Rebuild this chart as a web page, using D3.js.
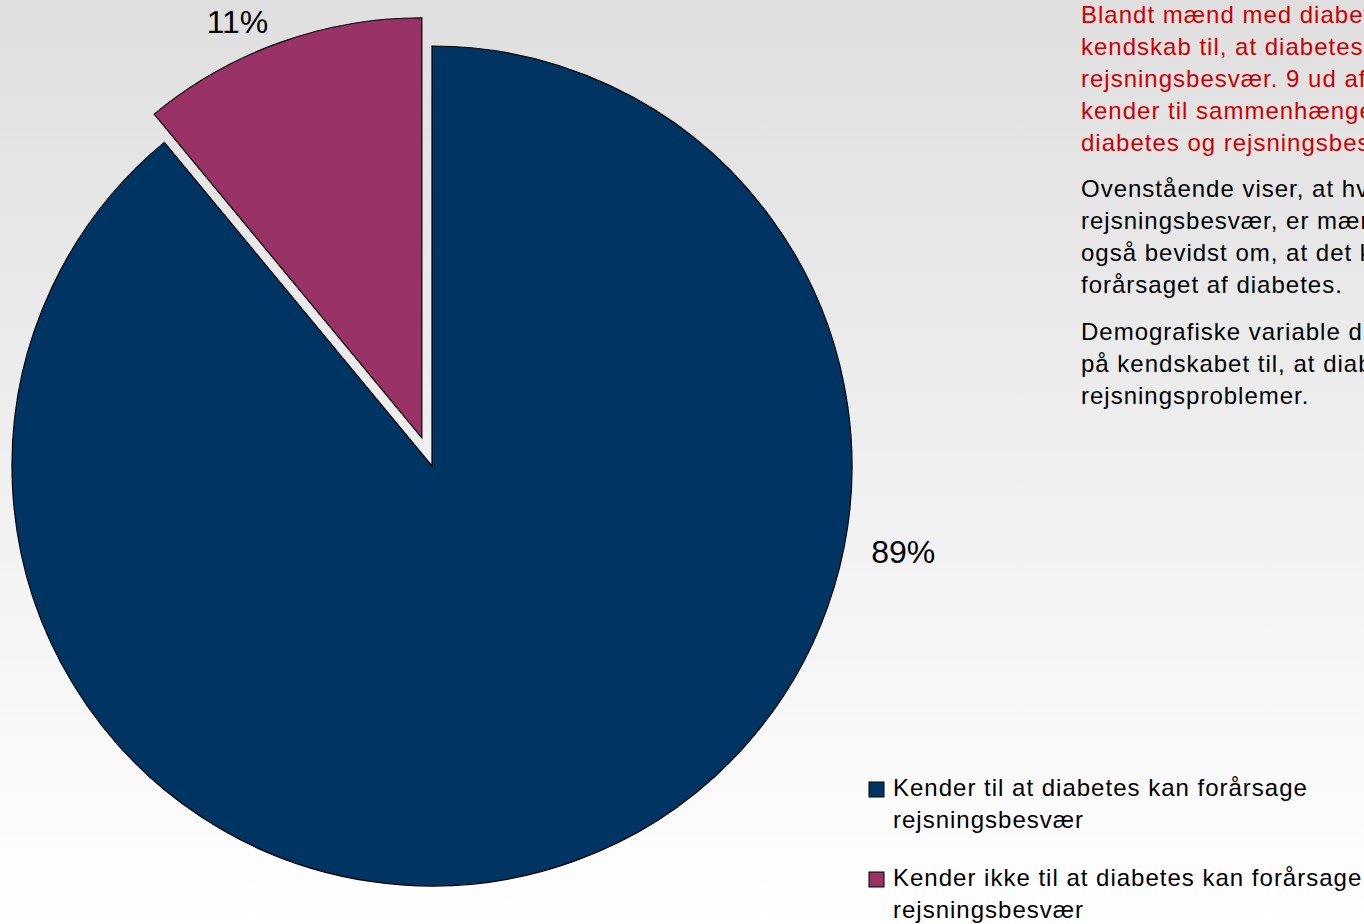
<!DOCTYPE html>
<html>
<head>
<meta charset="utf-8">
<script src="https://cdn.jsdelivr.net/npm/d3@7"></script>
<style>
  html, body { margin: 0; padding: 0; overflow: hidden; }
  svg { display: block; }
</style>
</head>
<body>
<svg id="chart" width="1364" height="924"></svg>
<script>
// Kendskab til at diabetes kan forårsage rejsningsbesvær
const categories = [
  "Kender til at diabetes kan forårsage rejsningsbesvær",
  "Kender ikke til at diabetes kan forårsage rejsningsbesvær"
];
const values = [89, 11];
const valueLabels = ["89%", "11%"];
const legendLines = [
  ["Kender til at diabetes kan forårsage", "rejsningsbesvær"],
  ["Kender ikke til at diabetes kan forårsage", "rejsningsbesvær"]
];
const redParagraph = [
  "Blandt mænd med diabetes er der et stort",
  "kendskab til, at diabetes kan forårsage",
  "rejsningsbesvær. 9 ud af 10 mænd",
  "kender til sammenhængen mellem",
  "diabetes og rejsningsbesvær."
];
const blackParagraph1 = [
  "Ovenstående viser, at hvis man har",
  "rejsningsbesvær, er mændene i højere grad",
  "også bevidst om, at det kan være",
  "forårsaget af diabetes."
];
const blackParagraph2 = [
  "Demografiske variable differentierer ikke",
  "på kendskabet til, at diabetes kan give",
  "rejsningsproblemer."
];

const W = 1364, H = 924;
const colors = ["#003463", "#993366"];
const font = "'Liberation Sans', Arial, sans-serif";
const textSize = 24, textSpacing = 1.0;
const cx = 432, cy = 466, R = 420;
const explode = [0, 30];
// label placement: angle (radians from 12 o'clock, clockwise) and distance from slice origin
const labelPos = [{ a: 1.751, d: 479 }, { a: 5.866, d: 455 }];

const svg = d3.select("#chart");
const defs = svg.append("defs");
const grad = defs.append("linearGradient")
  .attr("id", "bg").attr("x1", 0).attr("y1", 0).attr("x2", 0).attr("y2", 1);
grad.append("stop").attr("offset", "0%").attr("stop-color", "#dfdfdf");
grad.append("stop").attr("offset", "100%").attr("stop-color", "#ffffff");
svg.append("rect").attr("width", W).attr("height", H).attr("fill", "url(#bg)");

const pie = d3.pie().sort(null).value(d => d).startAngle(0).endAngle(2 * Math.PI);
const arcs = pie(values);
const arc = d3.arc().innerRadius(0).outerRadius(R);

const g = svg.append("g").attr("transform", `translate(${cx},${cy})`);
const slices = g.selectAll("g.slice").data(arcs).join("g")
  .attr("class", "slice")
  .attr("transform", (d, i) => {
    const mid = (d.startAngle + d.endAngle) / 2;
    return `translate(${Math.sin(mid) * explode[i]},${-Math.cos(mid) * explode[i]})`;
  });
slices.append("path")
  .attr("d", arc)
  .attr("fill", (d, i) => colors[i])
  .attr("stroke", "#000")
  .attr("stroke-width", 1.2)
  .attr("stroke-linejoin", "miter");
slices.append("text")
  .attr("x", (d, i) => Math.sin(labelPos[i].a) * labelPos[i].d)
  .attr("y", (d, i) => -Math.cos(labelPos[i].a) * labelPos[i].d)
  .attr("text-anchor", "middle")
  .attr("dominant-baseline", "central")
  .attr("font-family", font)
  .attr("font-size", 32)
  .attr("fill", "#000")
  .text((d, i) => valueLabels[i]);

// Side text
function paragraph(lines, y0, color) {
  svg.append("g").selectAll("text").data(lines).join("text")
    .attr("x", 1081)
    .attr("y", (d, i) => y0 + i * 32)
    .attr("font-family", font)
    .attr("font-size", textSize)
    .attr("letter-spacing", textSpacing)
    .attr("fill", color)
    .text(d => d);
}
paragraph(redParagraph, 23, "#cc0000");
paragraph(blackParagraph1, 197, "#000");
paragraph(blackParagraph2, 340, "#000");

// Legend
const legend = svg.append("g");
const items = legend.selectAll("g").data(categories).join("g")
  .attr("transform", (d, i) => `translate(869,${782 + i * 90})`);
items.append("rect")
  .attr("width", 15).attr("height", 15)
  .attr("fill", (d, i) => colors[i])
  .attr("stroke", "#000").attr("stroke-width", 1);
items.each(function(d, i) {
  d3.select(this).selectAll("text").data(legendLines[i]).join("text")
    .attr("x", 24)
    .attr("y", (t, j) => 14 + j * 32)
    .attr("font-family", font)
    .attr("font-size", textSize)
    .attr("letter-spacing", textSpacing)
    .attr("fill", "#000")
    .text(t => t);
});
</script>
</body>
</html>
